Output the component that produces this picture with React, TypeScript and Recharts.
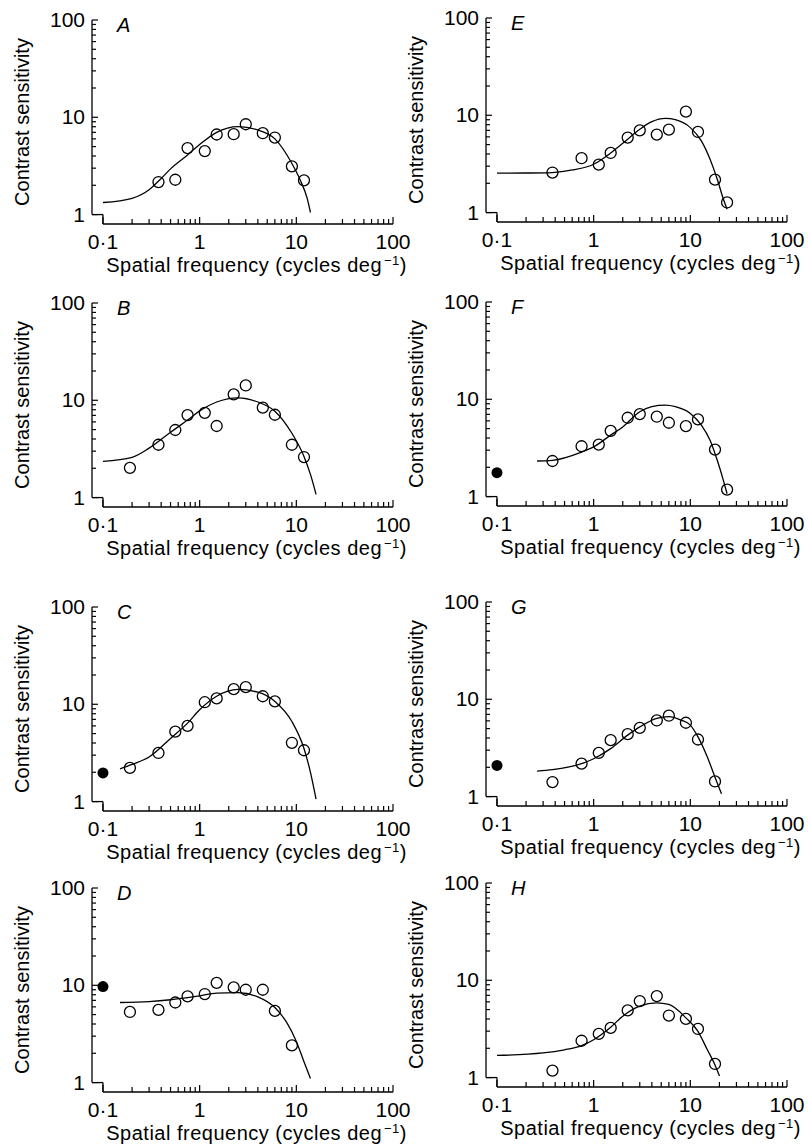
import { ComposedChart, Line, Scatter, XAxis, YAxis, ReferenceLine } from 'recharts'

const FONT = '"Liberation Sans", Arial, Helvetica, sans-serif'

// spatial frequency (cycles/deg) and contrast sensitivity
const freqA = [0.375, 0.56, 0.75, 1.13, 1.5, 2.25, 3, 4.5, 6, 9, 12]
const sensA = [2.16, 2.28, 4.82, 4.49, 6.65, 6.7, 8.48, 6.86, 6.19, 3.13, 2.25]
const fitFreqA = [0.1, 0.2, 0.3, 0.4, 0.5, 0.75, 1, 1.5, 2.5, 4, 6, 9, 11, 13, 14]
const fitSensA = [1.33, 1.47, 1.8, 2.35, 2.95, 4.1, 5.25, 7.0, 8.0, 7.4, 6.0, 3.35, 2.25, 1.45, 1.05]

const freqB = [0.19, 0.375, 0.56, 0.75, 1.13, 1.5, 2.25, 3, 4.5, 6, 9, 12]
const sensB = [2.02, 3.49, 4.95, 7.04, 7.43, 5.44, 11.5, 14.2, 8.4, 7.1, 3.49, 2.61]
const fitFreqB = [0.1, 0.2, 0.3, 0.5, 0.75, 1, 1.5, 2.5, 4, 6, 9, 12, 14, 16]
const fitSensB = [2.36, 2.59, 3.22, 4.69, 6.26, 7.79, 9.6, 10.6, 9.6, 7.73, 4.58, 2.65, 1.73, 1.08]

const freqC = [0.19, 0.375, 0.56, 0.75, 1.13, 1.5, 2.25, 3, 4.5, 6, 9, 12]
const sensC = [2.22, 3.16, 5.23, 6.0, 10.5, 11.5, 14.3, 15.0, 12.1, 10.7, 4.02, 3.37]
const fitFreqC = [0.15, 0.2, 0.3, 0.5, 0.75, 1, 1.5, 2.5, 4, 6, 9, 12, 14, 16]
const fitSensC = [2.17, 2.41, 2.87, 4.46, 6.4, 8.8, 12.1, 14.2, 13.3, 10.7, 6.65, 3.51, 2.0, 1.06]

const freqD = [0.19, 0.375, 0.56, 0.75, 1.13, 1.5, 2.25, 3, 4.5, 6, 9]
const sensD = [5.32, 5.58, 6.65, 7.68, 8.13, 10.6, 9.53, 9.0, 9.0, 5.45, 2.41]
const fitFreqD = [0.15, 0.3, 0.5, 1, 1.5, 2.5, 4, 6, 8, 10, 12, 14]
const fitSensD = [6.65, 6.8, 7.1, 7.8, 8.3, 8.4, 7.6, 5.9, 4.1, 2.65, 1.64, 1.1]

const freqE = [0.375, 0.75, 1.13, 1.5, 2.25, 3, 4.5, 6, 9, 12, 18, 24]
const sensE = [2.58, 3.62, 3.11, 4.1, 5.9, 7.0, 6.33, 7.12, 10.9, 6.74, 2.18, 1.27]
const fitFreqE = [0.1, 0.2, 0.375, 0.6, 1, 1.5, 2, 3, 4, 5.5, 7, 10, 13, 16, 19, 22, 24]
const fitSensE = [2.54, 2.55, 2.58, 2.74, 3.14, 4.1, 5.15, 7.18, 8.6, 9.3, 9.0, 7.47, 5.45, 3.53, 2.2, 1.37, 1.08]

const freqF = [0.375, 0.75, 1.13, 1.5, 2.25, 3, 4.5, 6, 9, 12, 18, 24]
const sensF = [2.32, 3.29, 3.42, 4.74, 6.46, 7.05, 6.62, 5.74, 5.3, 6.21, 3.04, 1.18]
const fitFreqF = [0.26, 0.375, 0.75, 1, 1.5, 2, 3, 4, 5.5, 7, 10, 13, 16, 19, 22, 24]
const fitSensF = [2.32, 2.36, 2.87, 3.24, 4.28, 5.2, 7.45, 8.4, 8.7, 8.4, 7.16, 5.43, 3.8, 2.36, 1.46, 1.07]

const freqG = [0.375, 0.75, 1.13, 1.5, 2.25, 3, 4.5, 6, 9, 12, 18]
const sensG = [1.41, 2.18, 2.81, 3.8, 4.38, 5.09, 6.06, 6.78, 5.74, 3.86, 1.43]
const fitFreqG = [0.26, 0.375, 0.75, 1, 1.5, 2.25, 3, 4.5, 6, 8, 10, 12, 15, 18, 21]
const fitSensG = [1.83, 1.89, 2.18, 2.45, 3.11, 4.28, 5.2, 6.36, 6.62, 6.11, 5.43, 4.11, 2.55, 1.58, 1.07]

const freqH = [0.375, 0.75, 1.13, 1.5, 2.25, 3, 4.5, 6, 9, 12, 18]
const sensH = [1.18, 2.39, 2.81, 3.24, 4.9, 6.11, 6.88, 4.34, 4.01, 3.16, 1.38]
const fitFreqH = [0.1, 0.3, 0.5, 0.75, 1, 1.5, 2, 3, 4.5, 6, 9, 12, 15, 18, 20]
const fitSensH = [1.69, 1.79, 1.93, 2.13, 2.45, 3.29, 4.28, 5.43, 5.87, 5.65, 4.11, 2.99, 1.93, 1.35, 1.04]

// filled symbols plotted at the axis (0.1 c/deg)
const filledFreq = 0.1
const filledPanels = ['C', 'D', 'F', 'G']
const filledSens = [1.97, 9.7, 1.76, 2.09]

const xTicks = [
  0.1, 0.2, 0.3, 0.4, 0.5, 0.6, 0.7, 0.8, 0.9,
  1, 2, 3, 4, 5, 6, 7, 8, 9,
  10, 20, 30, 40, 50, 60, 70, 80, 90, 100,
]
const xMajor = [0.1, 1, 10, 100]
const xMajorLabels = ['0·1', '1', '10', '100']
const yTicks = [1, 2, 3, 4, 5, 6, 7, 8, 9, 10, 20, 30, 40, 50, 60, 70, 80, 90, 100]
const yMajor = [1, 10, 100]
const yMajorLabels = ['1', '10', '100']

// where the (detached) axis lines sit, in data units
const X_ORIGIN = 0.077
const Y_ORIGIN = 0.8

const XTick = (props: any) => {
  const { x, y, payload } = props
  const idx = xMajor.indexOf(payload.value)
  return (
    <g>
      <line x1={x} x2={x} y1={y} y2={y - (idx >= 0 ? 7 : 5)} stroke="#000" strokeWidth={1.2} />
      {idx >= 0 && (
        <text x={x} y={y + 25} textAnchor="middle" fontSize={21} fontFamily={FONT} fill="#000">
          {xMajorLabels[idx]}
        </text>
      )}
    </g>
  )
}

const YTick = (props: any) => {
  const { x, y, payload } = props
  const idx = yMajor.indexOf(payload.value)
  return (
    <g>
      <line x1={x} x2={x + (idx >= 0 ? 6 : 4)} y1={y} y2={y} stroke="#000" strokeWidth={1.2} />
      {idx >= 0 && (
        <text x={x - 7} y={y + 7} textAnchor="end" fontSize={21} fontFamily={FONT} fill="#000">
          {yMajorLabels[idx]}
        </text>
      )}
    </g>
  )
}

const XTitle = (props: any) => {
  const { x, y, width } = props.viewBox
  return (
    <text x={x + width + 14} y={y + 48} textAnchor="end" fontSize={20} letterSpacing={0.5} fontFamily={FONT} fill="#000">
      Spatial frequency (cycles deg
      <tspan dx={2} dy={-7} fontSize={13}>−1</tspan>
      <tspan dy={7}>)</tspan>
    </text>
  )
}

const YTitle = (props: any) => {
  const { x, y, width, height } = props.viewBox
  const tx = x + width - 63
  const ty = y + height / 2
  return (
    <text x={tx} y={ty} transform={`rotate(-90, ${tx}, ${ty})`} textAnchor="middle" fontSize={20} fontFamily={FONT} fill="#000">
      Contrast sensitivity
    </text>
  )
}

const OpenCircle = (props: any) => (
  <circle cx={props.cx} cy={props.cy} r={5.5} fill="none" stroke="#000" strokeWidth={1.3} />
)

const FilledCircle = (props: any) => <circle cx={props.cx} cy={props.cy} r={5.5} fill="#000" />

interface PanelProps {
  letter: string
  col: number
  top: number
  freq: number[]
  sens: number[]
  fitFreq: number[]
  fitSens: number[]
}

function Panel({ letter, col, top, freq, sens, fitFreq, fitSens }: PanelProps) {
  const points = freq.map((f, i) => ({ f, s: sens[i] }))
  const fit = fitFreq.map((f, i) => ({ f, s: fitSens[i] }))
  const fi = filledPanels.indexOf(letter)
  const solid = fi >= 0 ? [{ f: filledFreq, s: filledSens[fi] }] : []
  const margin = col === 0
    ? { top: 20, right: 27, bottom: 31, left: 32 }
    : { top: 20, right: 21, bottom: 31, left: 22 }
  const width = col === 0 ? 420 : 404
  const plotLeft = margin.left + 60
  const axis = { stroke: '#000', strokeWidth: 1.3 }

  return (
    <div style={{ position: 'absolute', left: col === 0 ? 0 : 404, top: top - 20 }}>
      <ComposedChart width={width} height={285} margin={margin}>
        <XAxis
          type="number"
          dataKey="f"
          scale="log"
          domain={[X_ORIGIN, 100]}
          ticks={xTicks}
          interval={0}
          tick={(p: any) => <XTick {...p} />}
          tickSize={0}
          tickMargin={0}
          tickLine={false}
          axisLine={false}
          height={30}
          label={{ content: XTitle }}
        />
        <YAxis
          type="number"
          dataKey="s"
          scale="log"
          domain={[Y_ORIGIN, 100]}
          ticks={yTicks}
          interval={0}
          tick={(p: any) => <YTick {...p} />}
          tickSize={0}
          tickMargin={0}
          tickLine={false}
          axisLine={false}
          width={60}
          label={{ content: YTitle }}
        />
        <ReferenceLine segment={[{ x: X_ORIGIN, y: 1 }, { x: X_ORIGIN, y: 100 }]} {...axis} />
        <ReferenceLine segment={[{ x: X_ORIGIN, y: 1 }, { x: 0.1, y: 1 }]} {...axis} />
        <ReferenceLine segment={[{ x: 0.1, y: Y_ORIGIN }, { x: 0.1, y: 1 }]} {...axis} />
        <ReferenceLine segment={[{ x: 0.1, y: Y_ORIGIN }, { x: 100, y: Y_ORIGIN }]} {...axis} />
        <Line data={fit} dataKey="s" type="monotone" stroke="#000" strokeWidth={1.3} dot={false} isAnimationActive={false} />
        <Scatter data={points} dataKey="s" shape={OpenCircle} isAnimationActive={false} />
        <Scatter data={solid} dataKey="s" shape={FilledCircle} isAnimationActive={false} />
        <text x={plotLeft + 25} y={32} fontSize={20} fontStyle="italic" fontFamily={FONT} fill="#000">
          {letter}
        </text>
      </ComposedChart>
    </div>
  )
}

export default function App() {
  return (
    <div style={{ position: 'absolute', left: 0, top: 0, width: 808, height: 1147, background: '#fff' }}>
      <Panel letter="A" col={0} top={20} freq={freqA} sens={sensA} fitFreq={fitFreqA} fitSens={fitSensA} />
      <Panel letter="B" col={0} top={303} freq={freqB} sens={sensB} fitFreq={fitFreqB} fitSens={fitSensB} />
      <Panel letter="C" col={0} top={607} freq={freqC} sens={sensC} fitFreq={fitFreqC} fitSens={fitSensC} />
      <Panel letter="D" col={0} top={888} freq={freqD} sens={sensD} fitFreq={fitFreqD} fitSens={fitSensD} />
      <Panel letter="E" col={1} top={18} freq={freqE} sens={sensE} fitFreq={fitFreqE} fitSens={fitSensE} />
      <Panel letter="F" col={1} top={302} freq={freqF} sens={sensF} fitFreq={fitFreqF} fitSens={fitSensF} />
      <Panel letter="G" col={1} top={602} freq={freqG} sens={sensG} fitFreq={fitFreqG} fitSens={fitSensG} />
      <Panel letter="H" col={1} top={883} freq={freqH} sens={sensH} fitFreq={fitFreqH} fitSens={fitSensH} />
    </div>
  )
}
